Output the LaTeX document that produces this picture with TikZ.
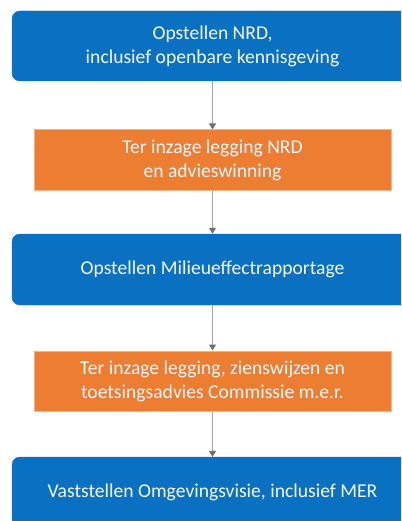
\documentclass[tikz,border=0pt]{standalone}
\usepackage{fontspec}
\setmainfont{Carlito}
\usetikzlibrary{arrows.meta}
\definecolor{boxblue}{HTML}{0A70C2}
\definecolor{boxorange}{HTML}{ED7D31}
\definecolor{orangeedge}{HTML}{F3B48A}
\definecolor{arrowgray}{HTML}{A6A6A6}
\definecolor{tipgray}{HTML}{6E6E6E}
\definecolor{paletext}{HTML}{F4F8FC}
\tikzset{
  bluebox/.style={fill=boxblue, draw=boxblue, rounded corners=8pt, minimum width=401pt,
    text=paletext, align=center, inner sep=0pt, font=\fontsize{19.6}{24}\selectfont},
  orangebox/.style={fill=boxorange, draw=orangeedge, line width=1pt, minimum width=357pt,
    text=paletext, align=center, inner sep=0pt, font=\fontsize{19.6}{24}\selectfont},
  flow/.style={draw=arrowgray, line width=1.2pt, -{Triangle[width=7pt,length=6pt,color=tipgray]}}
}
\begin{document}
\begin{tikzpicture}[x=1pt,y=1pt]
\useasboundingbox (0,0) rectangle (401,-521);
\clip (0,0) rectangle (401,-521);
\node[bluebox, minimum height=70pt] (b1) at (212.5,-46) {Opstellen NRD,\\inclusief openbare kennisgeving};
\node[orangebox, minimum height=61pt] (b2) at (212.5,-160.5) {Ter inzage legging NRD\\en advieswinning};
\node[bluebox, minimum height=71pt] (b3) at (212.5,-269.5) {Opstellen Milieueffectrapportage};
\node[orangebox, minimum height=60pt] (b4) at (212.5,-381) {Ter inzage legging, zienswijzen en\\toetsingsadvies Commissie m.e.r.};
\node[bluebox, minimum height=70pt] (b5) at (212.5,-492) {Vaststellen Omgevingsvisie, inclusief MER};
\draw[flow] (b1.south) -- (b2.north);
\draw[flow] (b2.south) -- (b3.north);
\draw[flow] (b3.south) -- (b4.north);
\draw[flow] (b4.south) -- (b5.north);
\end{tikzpicture}
\end{document}
